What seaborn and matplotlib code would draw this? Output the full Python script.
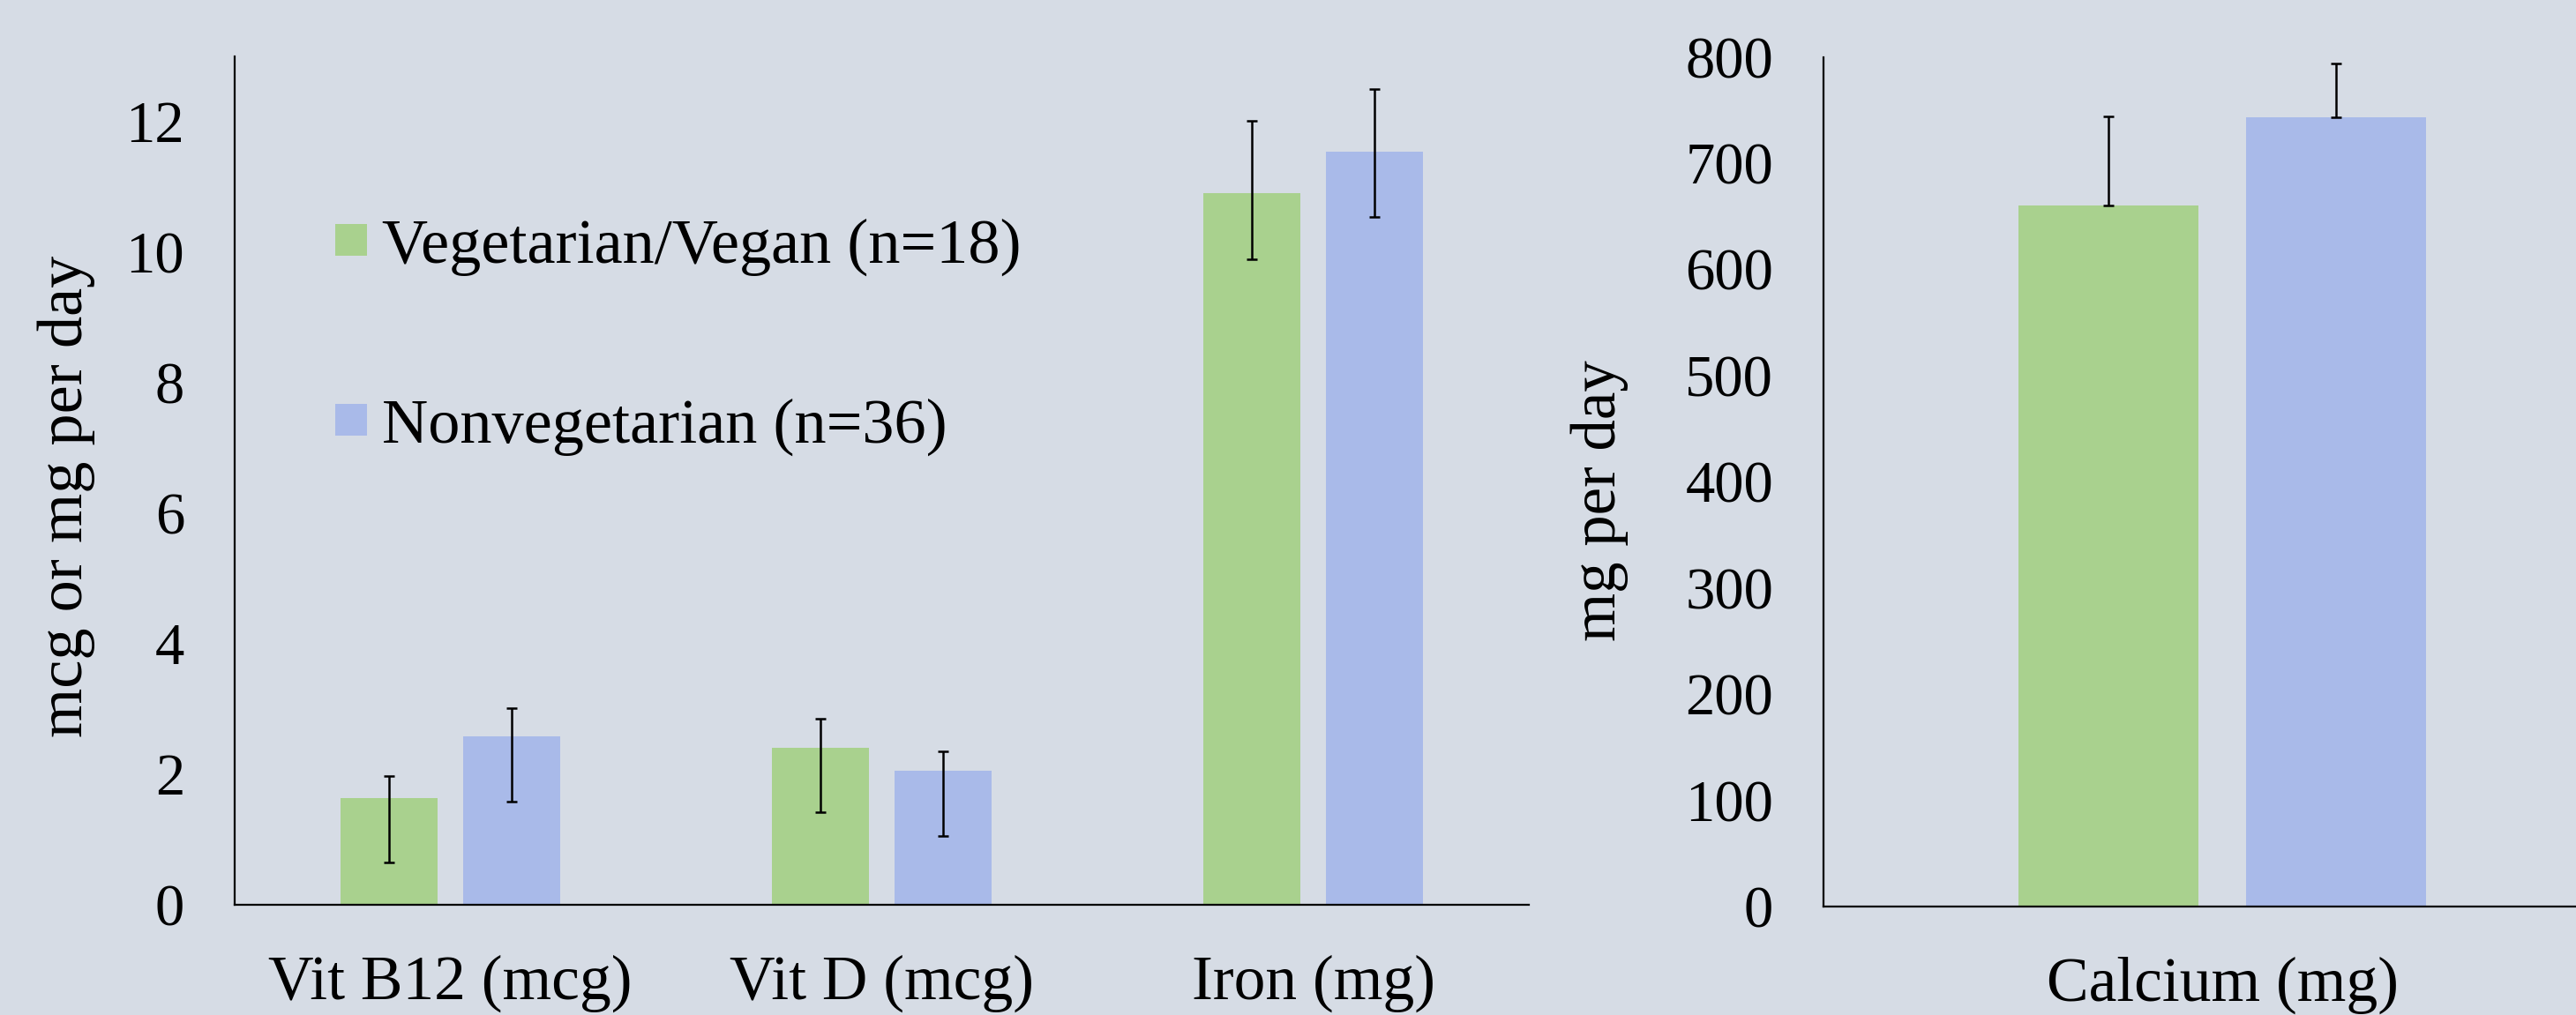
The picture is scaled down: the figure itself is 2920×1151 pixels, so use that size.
import numpy as np
import pandas as pd
import matplotlib
matplotlib.use("Agg")
import matplotlib.pyplot as plt
import seaborn as sns

# ---------------- data ----------------
nutrients = ["Vit B12 (mcg)", "Vit D (mcg)", "Iron (mg)"]
groups = ["Vegetarian/Vegan (n=18)", "Nonvegetarian (n=36)"]

veg_means = [1.63, 2.40, 10.90]
veg_low = [0.64, 1.41, 9.89]
veg_high = [1.97, 2.84, 12.01]

nonveg_means = [2.58, 2.05, 11.54]
nonveg_low = [1.58, 1.05, 10.54]
nonveg_high = [3.01, 2.35, 12.50]

calcium_label = ["Calcium (mg)"]
calcium_means = [660, 743]
calcium_low = [660, 743]
calcium_high = [744, 794]

left_ticks = [0, 2, 4, 6, 8, 10, 12]
right_ticks = [0, 100, 200, 300, 400, 500, 600, 700, 800]

# ---------------- style ----------------
BG = "#D6DCE5"
GREEN = "#A9D18E"
BLUE = "#A9BAE9"

plt.rcParams["font.family"] = ["Liberation Serif", "DejaVu Serif"]

fig = plt.figure(figsize=(29.2, 11.51), dpi=100, facecolor=BG)
ax1 = fig.add_axes([0.0911, 0.1090, 0.5024, 0.8354])
ax2 = fig.add_axes([0.7079, 0.1069, 0.3096, 0.8370])

df_left = pd.DataFrame({
    "nutrient": nutrients * 2,
    "group": [groups[0]] * 3 + [groups[1]] * 3,
    "value": veg_means + nonveg_means,
})
df_right = pd.DataFrame({
    "nutrient": calcium_label * 2,
    "group": groups,
    "value": calcium_means,
})

for ax, df in ((ax1, df_left), (ax2, df_right)):
    sns.barplot(data=df, x="nutrient", y="value", hue="group",
                hue_order=groups, palette=[GREEN, BLUE], saturation=1,
                width=0.571, gap=0.212, errorbar=None, ax=ax)

def add_err(ax, means_list, low_list, high_list):
    for cont, means, lo, hi in zip(ax.containers, means_list, low_list, high_list):
        xs = [b.get_x() + b.get_width() / 2 for b in cont]
        m = np.array(means, dtype=float)
        yerr = [m - np.array(lo), np.array(hi) - m]
        ax.errorbar(xs, m, yerr=yerr, fmt="none", ecolor="black",
                    elinewidth=1.8, capsize=4.3, capthick=1.8, zorder=5)

add_err(ax1, [veg_means, nonveg_means], [veg_low, nonveg_low], [veg_high, nonveg_high])
add_err(ax2, [[calcium_means[0]], [calcium_means[1]]],
        [[calcium_low[0]], [calcium_low[1]]], [[calcium_high[0]], [calcium_high[1]]])

ax1.set_xlim(-0.5, 2.5)
ax1.set_ylim(0, 13)
ax1.set_yticks(left_ticks)
ax2.set_xlim(-0.5, 0.5)
ax2.set_ylim(0, 800)
ax2.set_yticks(right_ticks)

for ax in (ax1, ax2):
    ax.set_facecolor(BG)
    ax.set_xlabel("")
    for s in ("top", "right"):
        ax.spines[s].set_visible(False)
    for s in ("left", "bottom"):
        ax.spines[s].set_color("black")
        ax.spines[s].set_linewidth(1.6)
    ax.tick_params(axis="y", length=0, pad=41, labelsize=48)
    ax.tick_params(axis="x", length=0, pad=41, labelsize=51.5)

ax1.set_ylabel("mcg or mg per day", fontsize=52)
ax1.yaxis.set_label_coords(-0.108, 0.481)
ax2.set_ylabel("mg per day", fontsize=51)
ax2.yaxis.set_label_coords(-0.244, 0.4775)

ax2.get_legend().remove()
handles, labels = ax1.get_legend_handles_labels()
ax1.get_legend().remove()
ax1.legend(handles, labels, loc="upper left", bbox_to_anchor=(0.0777, 0.8087),
           frameon=False, fontsize=52, handlelength=0.4986, handleheight=0.39,
           handletextpad=0.235, labelspacing=1.92, borderpad=0, borderaxespad=0)

fig.savefig("out.png", dpi=100, facecolor=BG)
